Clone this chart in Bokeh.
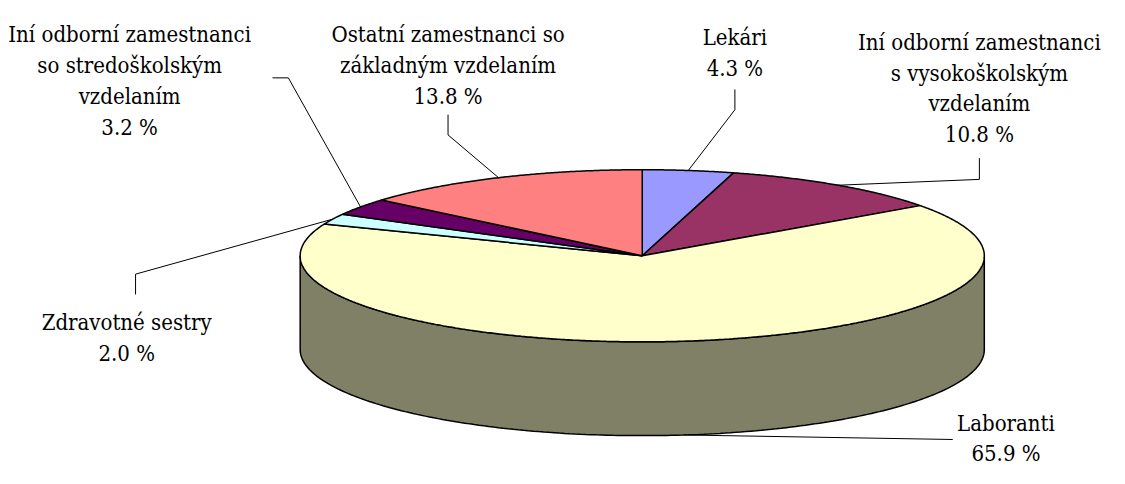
import numpy as np
from bokeh.plotting import figure
from bokeh.models import Range1d, ColumnDataSource
from bokeh.core.properties import value
from bokeh.embed import file_html
from bokeh.resources import INLINE

# ---------------- data ----------------
categories = [
    "Lekári",
    "Iní odborní zamestnanci s vysokoškolským vzdelaním",
    "Laboranti",
    "Zdravotné sestry",
    "Iní odborní zamestnanci so stredoškolským vzdelaním",
    "Ostatní zamestnanci so základným vzdelaním",
]
shares = [4.3, 10.8, 65.9, 2.0, 3.2, 13.8]
label_lines = [
    ["Lekári"],
    ["Iní odborní zamestnanci", "s vysokoškolským", "vzdelaním"],
    ["Laboranti"],
    ["Zdravotné sestry"],
    ["Iní odborní zamestnanci", "so stredoškolským", "vzdelaním"],
    ["Ostatní zamestnanci so", "základným vzdelaním"],
]
pct_labels = [f"{v:.1f} %" for v in shares]

# ---------------- styles / layout ----------------
top_colors = ["#9999FF", "#993366", "#FFFFCC", "#CCFFFF", "#660066", "#FF8080"]
side_colors = ["#4D4D80", "#4D1A33", "#808066", "#668080", "#330033", "#804040"]
FONT = "DejaVu Serif Condensed, DejaVu Serif"

CX, CY = 651.0, 264.0      # centre of top ellipse (reference pixels)
RA, RB = 347.0, 89.0       # semi axes
DEPTH = 97.0               # pie thickness

# label block: centre x, y of first line
label_pos = [(745, 38), (993, 43), (1020, 437), (128, 333), (131, 35), (454, 35)]
PITCH = 32.0
# leader stubs near labels
leader_stub = [
    [(745, 92), (745, 113)],
    [(993, 163), (993, 185)],
    [(966, 454)],
    [(137, 304), (137, 283)],
    [(276, 80), (292, 80)],
    [(454, 118), (454, 139)],
]

W, H = 1109, 468
p = figure(width=W, height=H, output_backend="svg", toolbar_location=None,
           x_range=Range1d(0, 1125), y_range=Range1d(484, 0),
           min_border=0, outline_line_color=None, background_fill_color="white")
p.axis.visible = False
p.grid.visible = False

def pt(theta_deg, dy=0.0):
    t = np.radians(theta_deg)
    return CX + RA * np.sin(t), CY - RB * np.cos(t) + dy

total = float(sum(shares))
bounds = np.concatenate([[0.0], np.cumsum(shares)]) / total * 360.0

side_xs, side_ys, side_fc = [], [], []
for i in range(len(shares)):
    a0, a1 = max(bounds[i], 90.0), min(bounds[i + 1], 270.0)
    if a1 <= a0:
        continue
    th = np.linspace(a0, a1, 200)
    tx, ty = pt(th)
    bx, by = pt(th[::-1], DEPTH)
    side_xs.append(list(np.concatenate([tx, bx])))
    side_ys.append(list(np.concatenate([ty, by])))
    side_fc.append(side_colors[i])
p.patches(side_xs, side_ys, fill_color=side_fc, line_color="black", line_width=1.5)

top_xs, top_ys = [], []
for i in range(len(shares)):
    th = np.linspace(bounds[i], bounds[i + 1], max(8, int((bounds[i + 1] - bounds[i]) * 3)))
    ex, ey = pt(th)
    top_xs.append([CX] + list(ex))
    top_ys.append([CY] + list(ey))
p.patches(top_xs, top_ys, fill_color=top_colors, line_color="black", line_width=1.5)

lx, ly = [], []
for i in range(len(shares)):
    mid = (bounds[i] + bounds[i + 1]) / 2.0
    front = np.cos(np.radians(mid)) < 0
    mx, my = pt(mid, DEPTH if front else 0.0)
    lx.append([q[0] for q in leader_stub[i]] + [float(mx)])
    ly.append([q[1] for q in leader_stub[i]] + [float(my)])
p.multi_line(lx, ly, line_color="black", line_width=1)

tx, ty, tt = [], [], []
for i in range(len(shares)):
    x0, y0 = label_pos[i]
    lines = label_lines[i] + [pct_labels[i]]
    for k, s in enumerate(lines):
        tx.append(x0)
        ty.append(y0 + k * PITCH)
        tt.append(s)
src = ColumnDataSource(dict(x=tx, y=ty, text=tt))
p.text(x="x", y="y", text="text", source=src, text_align="center", text_baseline="middle",
       text_font=value(FONT), text_font_size=value("22px"), text_color="black")

open("out.html", "w").write(file_html(p, INLINE))
